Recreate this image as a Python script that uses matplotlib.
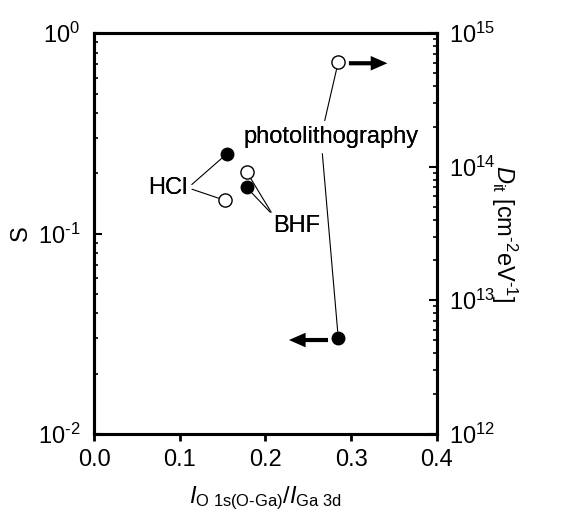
import numpy as np
import matplotlib.pyplot as plt
from matplotlib.ticker import LogLocator, NullFormatter, FixedLocator, FuncFormatter

plt.rcParams['font.family'] = 'Liberation Sans'
plt.rcParams['mathtext.fontset'] = 'custom'
plt.rcParams['mathtext.rm'] = 'Liberation Sans'
plt.rcParams['mathtext.it'] = 'Liberation Sans:italic'
plt.rcParams['font.size'] = 17

#%% данные
labels = ['HCl', 'BHF', 'photolithography']
ratio_S = [0.155, 0.178, 0.285]
S = [0.25, 0.17, 0.030]
ratio_D = [0.153, 0.178, 0.285]
Dit = [5.6e13, 9.2e13, 6.1e14]


def pow_fmt(v, pos):
    e = int(np.round(np.log10(v)))
    return r'10$^{\text{%d}}$' % e


#%% график
fig = plt.figure(figsize=(5.84, 5.11), dpi=100)
ax = fig.add_axes([0.161, 0.151, 0.587, 0.784])
ax2 = ax.twinx()

ax.plot(ratio_S, S, 'o', color='black', ms=9, zorder=5)
ax2.plot(ratio_D, Dit, 'o', mfc='white', mec='black', mew=1, ms=9.5, zorder=5)

ax.set_xlim(0, 0.4)
ax.set_yscale('log')
ax.set_ylim(1e-2, 1e0)
ax2.set_yscale('log')
ax2.set_ylim(1e12, 1e15)

ax.xaxis.set_major_locator(FixedLocator([0, 0.1, 0.2, 0.3, 0.4]))
ax.set_xticklabels(['0.0', '0.1', '0.2', '0.3', '0.4'])
for a in (ax, ax2):
    a.yaxis.set_major_formatter(FuncFormatter(pow_fmt))
    a.yaxis.set_minor_locator(LogLocator(base=10, subs=np.arange(2, 10)))
    a.yaxis.set_minor_formatter(NullFormatter())
    for s in a.spines.values():
        s.set_linewidth(2.2)

ax.tick_params(axis='x', direction='out', length=5, width=2, top=False, pad=6)
ax.tick_params(axis='y', which='major', direction='in', length=6, width=1.5,
               right=False, pad=10)
ax.tick_params(axis='y', which='minor', direction='in', length=3, width=1.2, right=False)
ax2.tick_params(axis='y', which='major', direction='in', length=6, width=1.5, pad=9)
ax2.tick_params(axis='y', which='minor', direction='in', length=3, width=1.2)

ax.set_xlabel(r'$I_{\mathrm{O\ 1s(O\text{-}Ga)}}/I_{\mathrm{Ga\ 3d}}$', labelpad=10)
ax.set_ylabel('S', labelpad=4)
ax2.set_ylabel(r'$D_{\mathrm{it}}$ [cm$^{\text{-}2}$eV$^{\text{-}1}$]', rotation=270,
               labelpad=17)

#%% подписи
lw = 0.8
# HCl
for x, y, a in [(ratio_S[0], S[0], ax), (ratio_D[0], Dit[0], ax2)]:
    a.annotate(labels[0], xy=(x, y), xycoords='data',
               xytext=(0.1096, 0.169), textcoords=ax.transData,
               ha='right', va='center', color='black',
               arrowprops=dict(arrowstyle='-', lw=lw, relpos=(1, 0.5),
                               shrinkA=1, shrinkB=5))
# BHF
for x, y, a in [(ratio_S[1], S[1], ax), (ratio_D[1], Dit[1], ax2)]:
    a.annotate(labels[1], xy=(x, y), xycoords='data',
               xytext=(0.2087, 0.1237), textcoords=ax.transData,
               ha='left', va='top',
               arrowprops=dict(arrowstyle='-', lw=lw, relpos=(0, 1),
                               shrinkA=0, shrinkB=5))
# photolithography
for x, y, a in [(ratio_S[2], S[2], ax), (ratio_D[2], Dit[2], ax2)]:
    a.annotate(labels[2], xy=(x, y), xycoords='data',
               xytext=(0.277, 0.303), textcoords=ax.transData,
               ha='center', va='center',
               arrowprops=dict(arrowstyle='-', lw=lw, relpos=(0.44, 0.5),
                               shrinkA=2, shrinkB=5))

# стрелки, указывающие на ось
arrow_style = 'simple,head_length=1.2,head_width=1.05,tail_width=0.3'
ax.annotate('', xy=(0.3423, 0.708), xytext=(0.2974, 0.708),
            arrowprops=dict(arrowstyle=arrow_style, fc='black', ec='none',
                            mutation_scale=10, shrinkA=0, shrinkB=0))
ax.annotate('', xy=(0.2274, 0.0294), xytext=(0.273, 0.0294),
            arrowprops=dict(arrowstyle=arrow_style, fc='black', ec='none',
                            mutation_scale=10, shrinkA=0, shrinkB=0))

fig.savefig('out.png', dpi=100)
